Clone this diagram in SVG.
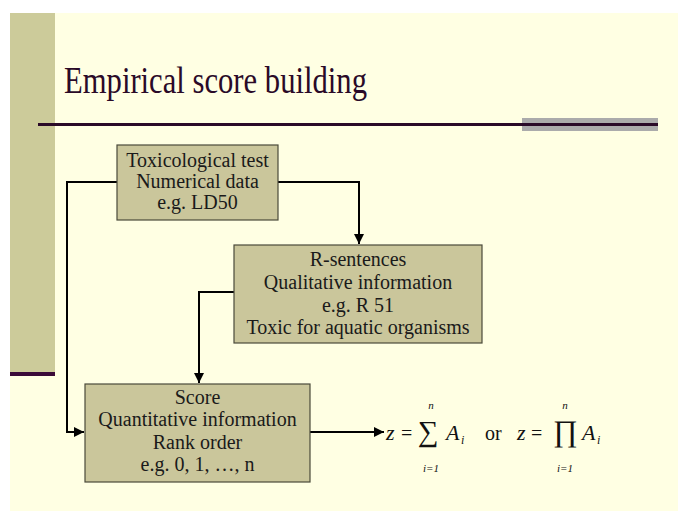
<svg xmlns="http://www.w3.org/2000/svg" width="678" height="511" viewBox="0 0 678 511">
<defs>
<style>
.box{fill:#CAC69B;stroke:#4A4A3A;stroke-width:1.2}
.bt{font-family:"Liberation Serif","DejaVu Serif",serif;font-size:20px;fill:#1a1a1a;text-anchor:middle}
.con{fill:none;stroke:#000;stroke-width:2}
.m{font-family:"Liberation Serif","DejaVu Serif",serif;fill:#111}
.mi{font-family:"Liberation Serif","DejaVu Serif",serif;font-style:italic;fill:#111}
</style>
<marker id="ah" viewBox="0 0 10 10" refX="10" refY="5" markerWidth="5" markerHeight="5" orient="auto" markerUnits="strokeWidth">
<path d="M0,0 L10,5 L0,10 z" fill="#000"/>
</marker>
</defs>
<rect x="0" y="0" width="678" height="511" fill="#fff"/>
<rect x="10" y="13" width="668" height="498" fill="#FFFFE3"/>
<rect x="10" y="13" width="45" height="360" fill="#CCCB9A"/>
<rect x="10" y="372" width="45" height="4" fill="#3A0A38"/>
<rect x="522" y="118" width="136" height="13" fill="#ABABAB"/>
<rect x="38" y="123" width="620" height="3" fill="#2A0A28"/>
<text x="64" y="93" font-family="Liberation Serif, serif" font-size="37" fill="#2A0A28" textLength="303" lengthAdjust="spacingAndGlyphs">Empirical score building</text>

<g id="connectors">
<path class="con" d="M117,182 H67 V432 H84" marker-end="url(#ah)"/>
<path class="con" d="M278,182 H359 V244" marker-end="url(#ah)"/>
<path class="con" d="M234,292 H199 V383" marker-end="url(#ah)"/>
<path class="con" d="M310,432 H384" marker-end="url(#ah)"/>
</g>

<g id="node-tox">
<rect class="box" x="117" y="145" width="161" height="75"/>
<text class="bt" x="197.5" y="167">Toxicological test</text>
<text class="bt" x="197.5" y="188">Numerical data</text>
<text class="bt" x="197.5" y="209">e.g. LD50</text>
</g>

<g id="node-r">
<rect class="box" x="234" y="245" width="248" height="98"/>
<text class="bt" x="358" y="266">R-sentences</text>
<text class="bt" x="358" y="289">Qualitative information</text>
<text class="bt" x="358" y="312">e.g. R 51</text>
<text class="bt" x="358" y="334">Toxic for aquatic organisms</text>
</g>

<g id="node-score">
<rect class="box" x="85" y="384" width="225" height="98"/>
<text class="bt" x="197.5" y="404">Score</text>
<text class="bt" x="197.5" y="426">Quantitative information</text>
<text class="bt" x="197.5" y="449">Rank order</text>
<text class="bt" x="197.5" y="471">e.g. 0, 1, …, n</text>
</g>

<g id="formula">
<text class="mi" x="386" y="440" font-size="22">z</text>
<text class="m" x="401" y="440" font-size="20">=</text>
<text class="m" x="418" y="441" font-size="29">∑</text>
<text class="mi" x="431" y="409" font-size="11" text-anchor="middle">n</text>
<text class="mi" x="431" y="472" font-size="11" text-anchor="middle">i=1</text>
<text class="mi" x="446" y="440" font-size="22">A</text>
<text class="mi" x="461" y="444" font-size="12">i</text>
<text class="m" x="485" y="440" font-size="20">or</text>
<text class="mi" x="517" y="440" font-size="22">z</text>
<text class="m" x="531" y="440" font-size="20">=</text>
<text class="m" x="553" y="441" font-size="30">∏</text>
<text class="mi" x="565" y="409" font-size="11" text-anchor="middle">n</text>
<text class="mi" x="565" y="472" font-size="11" text-anchor="middle">i=1</text>
<text class="mi" x="582" y="440" font-size="22">A</text>
<text class="mi" x="597" y="444" font-size="12">i</text>
</g>
</svg>
